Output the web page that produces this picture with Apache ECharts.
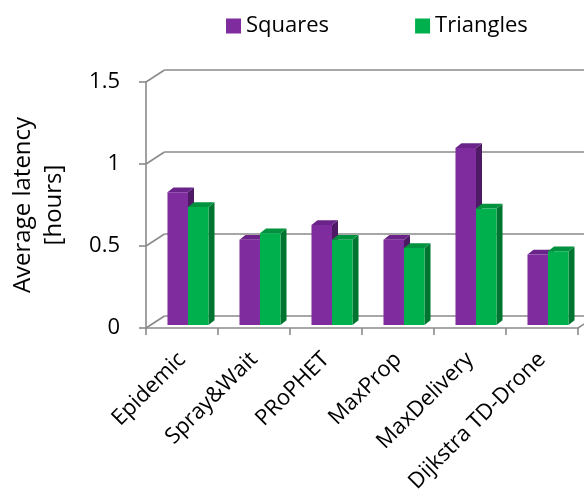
<!DOCTYPE html>
<html>
<head>
<meta charset="utf-8">
<script src="https://cdn.jsdelivr.net/npm/echarts@6/dist/echarts.min.js"></script>
<style>
  html, body { margin: 0; padding: 0; background: #ffffff; }
  #chart { width: 584px; height: 497px; }
</style>
</head>
<body>
<div id="chart"></div>
<script>
// Average latency per routing scheme, for two deployment layouts
const categories = ['Epidemic', 'Spray&Wait', 'PRoPHET', 'MaxProp', 'MaxDelivery', 'Dijkstra TD-Drone'];
const squares   = [0.81, 0.52, 0.61, 0.52, 1.08, 0.43];
const triangles = [0.72, 0.56, 0.52, 0.47, 0.71, 0.45];
const yTicks    = [0, 0.5, 1, 1.5];

const FONT = 'Open Sans';
const TEXT = '#000000';
const AXIS_GREY = '#8a8a8a';

// oblique offset from the front axis plane to the back wall
const WALL_DX = 18.5, WALL_DY = -12;
// where the bar fronts sit inside the depth, and how deep the bars are
const BAR_DX = 6, BAR_DY = -3;
const DEPTH_DX = 6, DEPTH_DY = -4.7;
const BAR_FRAC = 0.285;

const shades = {
  purple: { front: '#7F2C9E', side: '#4E1A66', top: '#6A2388' },
  green:  { front: '#00B04C', side: '#007530', top: '#00923F' }
};

// draws one box-shaped bar: side face, top face, then front face
function boxBar(slot, col) {
  return function (params, api) {
    const cat = api.value(0), v = api.value(1);
    const base = api.coord([cat, 0]);
    const head = api.coord([cat, v]);
    const band = api.size([1, 0])[0];
    const w = band * BAR_FRAC;
    const x0 = base[0] - w + slot * w + BAR_DX;
    const x1 = x0 + w;
    const yb = base[1] + BAR_DY;
    const yt = head[1] + BAR_DY;
    return {
      type: 'group',
      children: [
        { type: 'polygon', shape: { points: [[x1, yt], [x1 + DEPTH_DX, yt + DEPTH_DY], [x1 + DEPTH_DX, yb + DEPTH_DY], [x1, yb]] }, style: { fill: col.side } },
        { type: 'polygon', shape: { points: [[x0, yt], [x0 + DEPTH_DX, yt + DEPTH_DY], [x1 + DEPTH_DX, yt + DEPTH_DY], [x1, yt]] }, style: { fill: col.top } },
        { type: 'rect', shape: { x: x0, y: yt, width: w, height: yb - yt }, style: { fill: col.front } }
      ]
    };
  };
}

// back wall gridline plus the slanted connector from the front axis, one per tick value
function wallLine(params, api) {
  const v = api.value(1);
  const cs = params.coordSys;
  const y = api.coord([0, v])[1];
  const xL = cs.x, xR = cs.x + cs.width;
  const st = { stroke: AXIS_GREY, lineWidth: 1.6 };
  const kids = [
    { type: 'line', shape: { x1: xL, y1: y, x2: xL + WALL_DX, y2: y + WALL_DY }, style: st },
    { type: 'line', shape: { x1: xL + WALL_DX, y1: y + WALL_DY, x2: xR + WALL_DX + 40, y2: y + WALL_DY }, style: st }
  ];
  if (v === 0) {
    kids.push({ type: 'line', shape: { x1: xR, y1: y, x2: xR + WALL_DX, y2: y + WALL_DY }, style: st });
  }
  return { type: 'group', children: kids };
}

const chart = echarts.init(document.getElementById('chart'), null, { renderer: 'canvas' });

chart.setOption({
  animation: false,
  backgroundColor: '#ffffff',
  color: [shades.purple.front, shades.green.front],
  textStyle: { fontFamily: FONT, color: TEXT },
  legend: {
    data: ['Squares', 'Triangles'],
    left: 221,
    top: 10,
    icon: 'rect',
    itemWidth: 15,
    itemHeight: 15,
    itemGap: 86,
    textStyle: { fontFamily: FONT, fontSize: 22, color: TEXT, padding: [0, 0, 0, 0] }
  },
  grid: { left: 143, top: 82, width: 435, height: 246, containLabel: false },
  xAxis: {
    type: 'category',
    data: categories,
    boundaryGap: true,
    axisLine: { show: true, lineStyle: { color: AXIS_GREY, width: 1.6 } },
    axisTick: { show: true, interval: 0, length: 7, lineStyle: { color: AXIS_GREY, width: 1.6 } },
    axisLabel: { interval: 0, rotate: 45, margin: 28, fontFamily: FONT, fontSize: 22, color: TEXT },
    splitLine: { show: false }
  },
  yAxis: {
    type: 'value',
    min: 0,
    max: 1.5,
    interval: 0.5,
    name: 'Average latency\n[hours]',
    nameLocation: 'middle',
    nameRotate: 90,
    nameGap: 76,
    nameTextStyle: { fontFamily: FONT, fontSize: 24, color: TEXT, lineHeight: 31 },
    axisLine: { show: true, lineStyle: { color: AXIS_GREY, width: 1.6 } },
    axisTick: { show: true, length: 7, lineStyle: { color: AXIS_GREY, width: 1.6 } },
    axisLabel: { margin: 26, fontFamily: FONT, fontSize: 22, color: TEXT, padding: [4, 0, 0, 0] },
    splitLine: { show: false }
  },
  series: [
    {
      name: 'wall',
      type: 'custom',
      silent: true,
      z: 1,
      renderItem: wallLine,
      data: yTicks.map(v => [0, v])
    },
    {
      name: 'Squares',
      type: 'custom',
      z: 2,
      itemStyle: { color: shades.purple.front },
      renderItem: boxBar(0, shades.purple),
      data: squares.map((v, i) => [i, v])
    },
    {
      name: 'Triangles',
      type: 'custom',
      z: 3,
      itemStyle: { color: shades.green.front },
      renderItem: boxBar(1, shades.green),
      data: triangles.map((v, i) => [i, v])
    }
  ]
});
</script>
</body>
</html>
